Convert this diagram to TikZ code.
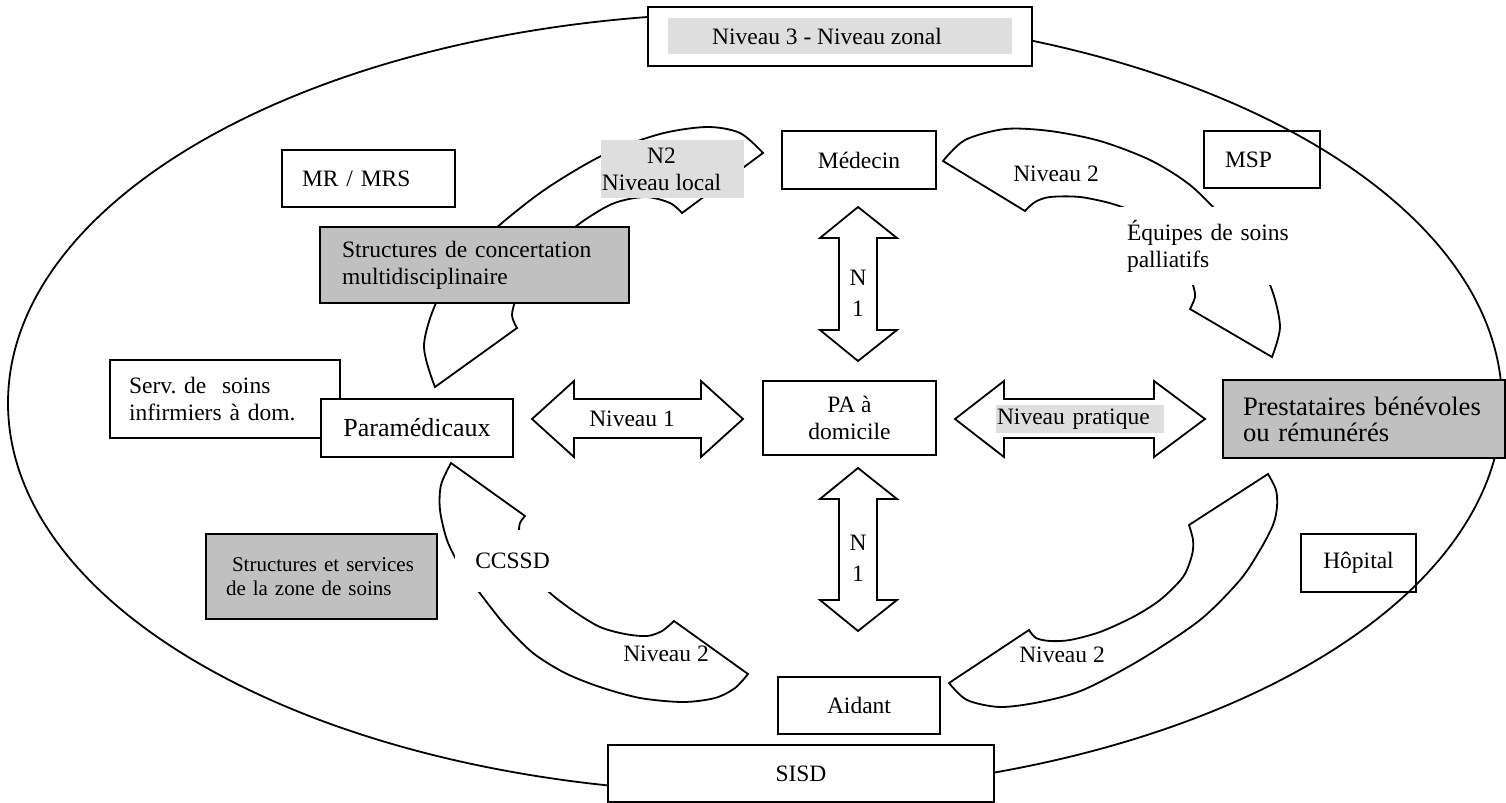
\documentclass[tikz,border=0pt]{standalone}
\usepackage{fontspec}
\setmainfont{Liberation Serif}
\definecolor{boxgray}{HTML}{C0C0C0}
\definecolor{markgray}{HTML}{DEDEDE}
\frenchspacing

\begin{document}
\begin{tikzpicture}[x=0.5pt,y=-0.5pt,line width=0.9pt,
  every node/.style={font=\fontsize{11.75}{13.5}\selectfont},
  box/.style={draw,line width=1pt,inner sep=0pt,align=center},
  shaded/.style={box,fill=boxgray},
  band/.style={fill=markgray,inner sep=0pt},
  curved/.style={draw,fill=white,line width=0.9pt},
  txt/.style={inner sep=0pt,align=center}]
\useasboundingbox (0,0) rectangle (1506,803);
\draw (755,403) ellipse [x radius=373.5pt, y radius=195pt];
\node[box,fill=white,minimum width=192pt,minimum height=29.5pt] (zonalbox) at (840,36.5) {};
\node[band,minimum width=172pt,minimum height=18pt] (zonalband) at (840,36) {};
\node[txt] (zonal) at (827,36) {Niveau 3 - Niveau zonal};
\node[box,fill=white,minimum width=193pt,minimum height=28.5pt] (sisd) at (801,773.5) {SISD};
\draw[curved] plot[smooth] coordinates {(435,387) (424,345) (440,295) (480,243) (540,193) (603,155) (660,134) (707,127) (740,133) (763,153)}
  -- plot[smooth] coordinates {(682,213) (670,203) (645,197) (612,204) (575,227) (540,260) (518,295) (512,315) (517,328)} -- cycle;
\draw[curved] plot[smooth] coordinates {(943,161) (965,140) (1005,129) (1050,131) (1100,141) (1150,160) (1190,185) (1225,220) (1255,258) (1272,290) (1280,327) (1272,357)}
  -- plot[smooth] coordinates {(1190,309) (1195,297) (1193,285) (1185,262) (1165,235) (1140,215) (1113,204) (1080,197) (1050,197) (1035,202) (1025,211)} -- cycle;
\draw[curved] plot[smooth] coordinates {(451,463) (441,485) (440,510) (447,540) (460,566) (479,592) (505,625) (533,653) (565,673) (600,687) (640,698) (683,702) (715,698) (735,688) (748,674)}
  -- plot[smooth] coordinates {(674,621) (662,631) (647,636) (625,634) (600,627) (575,612) (549,592) (532,570) (521,548) (519,533) (520,523) (525,516)} -- cycle;
\draw[curved] plot[smooth] coordinates {(1268,474) (1276,490) (1277,507) (1273,525) (1260,550) (1240,580) (1200,620) (1140,660) (1083,690) (1040,702) (1000,707) (967,700) (949,683)}
  -- plot[smooth] coordinates {(1029,630) (1036,638) (1050,641) (1070,640) (1100,632) (1133,617) (1160,600) (1183,577) (1192,555) (1193,540) (1189,525)} -- cycle;
\draw[curved] (532,419)--(574,381)--(574,399)--(701,399)--(701,381)--(743,419)--(701,457)--(701,438)--(574,438)--(574,457)--cycle;
\draw[curved] (955,419)--(1004,381)--(1004,399)--(1154,399)--(1154,381)--(1205,419)--(1154,457)--(1154,438)--(1004,438)--(1004,457)--cycle;
\draw[curved] (858,207)--(897,238)--(877,238)--(877,330)--(897,330)--(858,361)--(820,330)--(839,330)--(839,238)--(820,238)--cycle;
\draw[curved] (858,468)--(897,499)--(877,499)--(877,600)--(897,600)--(858,631)--(820,600)--(839,600)--(839,499)--(820,499)--cycle;
\node[txt,font=\fontsize{11.75}{15.5}\selectfont] (nunhaut) at (858,293.5) {N\\1};
\node[txt,font=\fontsize{11.75}{15.5}\selectfont] (nunbas) at (858,558) {N\\1};
\node[txt] (niveauun) at (632,419) {Niveau 1};
\node[band,align=left,text width=83pt,inner xsep=0.5pt,minimum height=14pt] (pratique) at (1080,419) {Niveau pratique};
\node[box,align=left,text width=66.5pt,inner xsep=10pt,minimum height=28.5pt] (mr) at (368.5,178.5) {MR / MRS};
\node[shaded,align=left,text width=132.5pt,inner xsep=11pt,minimum height=38pt] (concert) at (474.5,265) {Structures de concertation\\multidisciplinaire};
\node[band,minimum width=71.5pt,minimum height=29pt] (ndeuxband) at (672.5,169) {};
\node[txt] (ndeux) at (661.5,169) {N2\\Niveau local};
\node[box,minimum width=77pt,minimum height=29pt] (medecin) at (859,160) {Médecin};
\node[box,align=left,text width=37pt,inner xsep=10.5pt,minimum height=28.5pt] (msp) at (1262,159.5) {MSP};
\node[txt] (niveaudeuxhaut) at (1056,174) {Niveau 2};
\node[fill=white,align=left,text width=82pt,inner xsep=5pt,inner ysep=0pt,minimum height=39pt] (palliatifs) at (1209,246) {Équipes de soins\\palliatifs};
\node[box,fill=white,align=left,text width=96pt,inner xsep=9.5pt,minimum height=39pt] (servinf) at (225,399) {Serv. de~ soins\\infirmiers à dom.};
\node[box,fill=white,minimum width=96pt,minimum height=29pt,font=\fontsize{13}{15}\selectfont] (para) at (417,428) {Paramédicaux};
\node[box,fill=white,minimum width=86.5pt,minimum height=37pt] (pa) at (849.5,418) {PA à\\domicile};
\node[shaded,align=left,text width=121pt,inner xsep=10pt,minimum height=39pt,font=\fontsize{13.3}{13}\selectfont] (presta) at (1364,419) {Prestataires bénévoles\\ou rémunérés};
\node[box,minimum width=57.5pt,minimum height=29pt] (hopital) at (1358.5,563) {Hôpital};
\node[shaded,align=left,text width=95.5pt,inner xsep=10pt,minimum height=42.5pt,font=\fontsize{10.5}{12}\selectfont] (zonesoins) at (321.5,576.5) {\hspace*{3pt}Structures et services\\de la zone de soins};
\node[fill=white,inner sep=0pt,minimum width=57.5pt,minimum height=31pt] (ccssd) at (512.5,561) {CCSSD};
\node[txt] (niveaudeuxg) at (666,654) {Niveau 2};
\node[txt] (niveaudeuxd) at (1062,655) {Niveau 2};
\node[box,fill=white,minimum width=81pt,minimum height=28.5pt] (aidant) at (859,705.5) {Aidant};
\end{tikzpicture}
\end{document}
